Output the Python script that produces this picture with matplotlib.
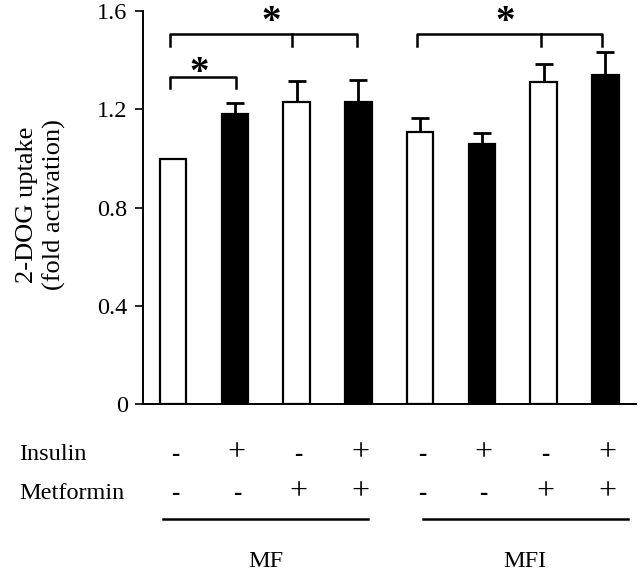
import matplotlib.pyplot as plt
import numpy as np

plt.rcParams['font.family'] = ['Liberation Serif', 'DejaVu Serif']

# valori
groups = ['MF', 'MFI']
uptake = [1.00, 1.18, 1.23, 1.23, 1.11, 1.06, 1.31, 1.34]
sem = [0.0, 0.045, 0.085, 0.09, 0.056, 0.045, 0.074, 0.094]
filled = [False, True, False, True, False, True, False, True]
insulin = ['-', '+', '-', '+', '-', '+', '-', '+']
metformin = ['-', '-', '+', '+', '-', '-', '+', '+']
yticks = [0, 0.4, 0.8, 1.2, 1.6]
ytick_labels = ['0', '0.4', '0.8', '1.2', '1.6']

fig = plt.figure(figsize=(6.4, 5.73), dpi=100)
ax = fig.add_axes([0.2234, 0.2941, 0.7706, 0.6867])

x = np.arange(len(uptake))
colors = ['black' if f else 'white' for f in filled]
ax.bar(x, uptake, width=0.43, color=colors, edgecolor='black', linewidth=1.6, zorder=2)
ax.errorbar(x, uptake, yerr=[np.zeros(len(sem)), sem], fmt='none', ecolor='black',
            elinewidth=2, capsize=6.5, capthick=2, zorder=1)

ax.set_xlim(-0.49, 7.5)
ax.set_ylim(0, 1.6)
ax.set_yticks(yticks)
ax.set_yticklabels(ytick_labels, fontsize=17.5)
ax.set_xticks([])
ax.tick_params(axis='y', length=6, width=1.2, pad=5)
for s in ['top', 'right']:
    ax.spines[s].set_visible(False)
for s in ['left', 'bottom']:
    ax.spines[s].set_linewidth(1.4)

fig.text(41 / 640, 1 - 205 / 573, '2-DOG uptake\n(fold activation)', rotation=90,
         ha='center', va='center', fontsize=19, linespacing=1.22)

# paranteze de semnificatie
def bracket(x0, x1, xm, y, drop, star_x, star_y):
    ax.plot([x0, x0, x1, x1], [y - drop, y, y, y - drop], color='black', lw=1.8, clip_on=False)
    if xm is not None:
        ax.plot([xm, xm], [y, y - drop], color='black', lw=1.8, clip_on=False)
    ax.text(star_x, star_y, '*', fontsize=28, fontweight='bold', ha='center', va='center', clip_on=False)

bracket(-0.05, 2.97, 1.93, 1.505, 0.047, 1.59, 1.555)
bracket(-0.05, 1.01, None, 1.333, 0.047, 0.42, 1.345)
bracket(3.95, 6.95, 5.96, 1.505, 0.047, 5.38, 1.555)

# tabelul de tratamente
trans = ax.get_xaxis_transform()
ax.text(-2.5, -0.128, 'Insulin', transform=trans, fontsize=17.5, ha='left', va='center')
ax.text(-2.5, -0.225, 'Metformin', transform=trans, fontsize=17.5, ha='left', va='center')
for xi, (ins, met) in enumerate(zip(insulin, metformin)):
    for yy, sign in [(-0.128, ins), (-0.225, met)]:
        if sign == '+':
            ax.text(x[xi] + 0.03, yy + 0.004, sign, transform=trans, fontsize=23,
                    ha='center', va='center')
        else:
            ax.text(x[xi] + 0.03, yy, sign, transform=trans, fontsize=18,
                    ha='center', va='center', fontweight='bold')

ax.plot([-0.16, 3.16], [-0.291, -0.291], transform=trans, color='black', lw=1.8, clip_on=False)
ax.plot([4.04, 7.36], [-0.291, -0.291], transform=trans, color='black', lw=1.8, clip_on=False)
ax.text(1.5, -0.3995, groups[0], transform=trans, fontsize=17.5, ha='center', va='center')
ax.text(5.7, -0.3995, groups[1], transform=trans, fontsize=17.5, ha='center', va='center')

fig.savefig('out.png', dpi=100)
